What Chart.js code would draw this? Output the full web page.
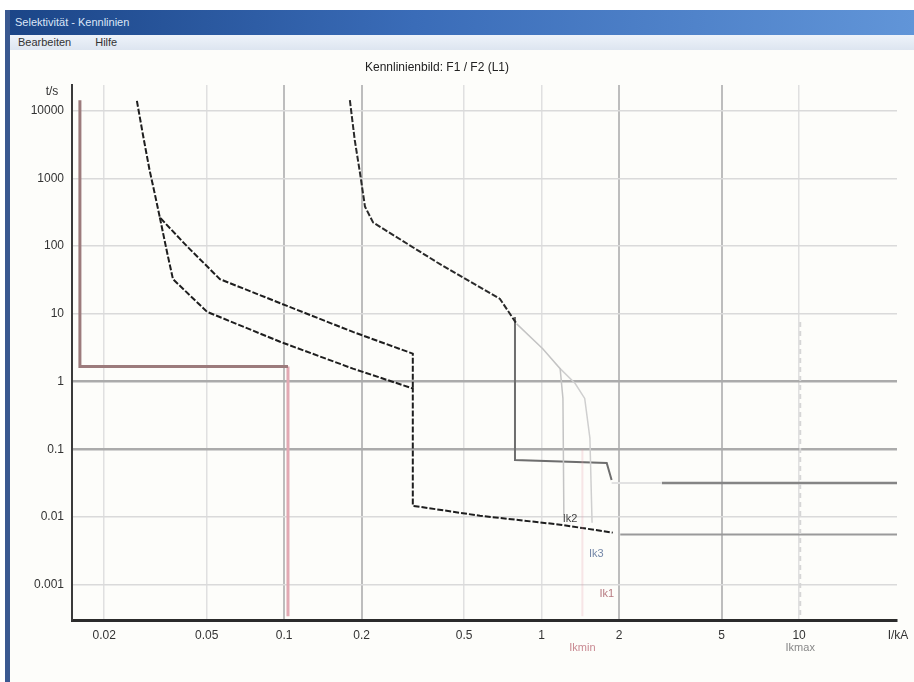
<!DOCTYPE html>
<html>
<head>
<meta charset="utf-8">
<script src="https://cdn.jsdelivr.net/npm/chart.js@4/dist/chart.umd.min.js"></script>
<style>
  body { margin: 0; width: 914px; height: 682px; overflow: hidden; background: #fff; position: relative;
         font-family: "Liberation Sans", Arial, sans-serif; }
  #frame { position: absolute; left: 5px; top: 10px; width: 909px; height: 672px; background: #fdfdfa; }
  #border { position: absolute; left: 0; top: 0; width: 5px; height: 672px; background: #3a5890; }
  #titlebar { position: absolute; left: 0; top: 0; right: 0; height: 25px; color: #dce6f7; font-size: 11px;
              line-height: 24px; padding-left: 10px;
              background: linear-gradient(to right, #1b4587, #3a6cb8 45%, #6195d8); }
  #menubar { position: absolute; left: 5px; top: 25px; right: 0; height: 15px; font-size: 11px; line-height: 15px;
             color: #333; background: linear-gradient(#eef3fa, #dde5f0); }
  #menubar span { margin-left: 8px; margin-right: 16px; }
  #chart { position: absolute; left: 0; top: 0; }
</style>
</head>
<body>
<div id="frame">
  <div id="titlebar">Selektivität - Kennlinien</div>
  <div id="menubar"><span>Bearbeiten</span><span>Hilfe</span></div>
  <div id="border"></div>
</div>
<canvas id="chart" width="914" height="682"></canvas>
<script>
// axis ticks
const xTicks = [0.02, 0.05, 0.1, 0.2, 0.5, 1, 2, 5, 10];
const xTickLabels = ['0.02', '0.05', '0.1', '0.2', '0.5', '1', '2', '5', '10'];
const yTicks = [0.001, 0.01, 0.1, 1, 10, 100, 1000, 10000];
const yTickLabels = ['0.001', '0.01', '0.1', '1', '10', '100', '1000', '10000'];

// fuse 1 (current in kA, time in s)
const fuse1UpperI = [0.0268, 0.0283, 0.030, 0.0315, 0.0329, 0.042, 0.0563, 0.1026, 0.185, 0.316, 0.316];
const fuse1UpperT = [14000, 4385, 1340, 576, 265, 99, 32.5, 13.1, 5.4, 2.58, 0.79];
const fuse1LowerI = [0.0329, 0.0351, 0.037, 0.0502, 0.0964, 0.185, 0.316, 0.316, 0.576, 1.18, 1.89];
const fuse1LowerT = [265, 81, 32.5, 10.7, 3.87, 1.55, 0.79, 0.0146, 0.0104, 0.00768, 0.00586];
const fuse1TailI = [2.02, 24];
const fuse1TailT = [0.00548, 0.00548];

// breaker
const breakerI = [0.180, 0.188, 0.197, 0.206, 0.2215, 0.392, 0.689, 0.80];
const breakerT = [14300, 3700, 1213, 384, 224, 57.8, 16.6, 7.1];
const breakerInstI = [0.788, 0.788, 1.79, 1.87];
const breakerInstT = [9, 0.0692, 0.0625, 0.0352];
const breakerGapI = [1.87, 2.93];
const breakerGapT = [0.0318, 0.0318];
const breakerTailI = [2.93, 24];
const breakerTailT = [0.0318, 0.0318];
const tol1I = [0.80, 1.01, 1.18, 1.21, 1.22];
const tol1T = [7.1, 3.05, 1.55, 0.563, 0.0108];
const tol2I = [1.18, 1.35, 1.47, 1.54, 1.57];
const tol2T = [1.55, 0.935, 0.563, 0.146, 0.0082];

// start current curve
const startI = [0.0161, 0.0161, 0.1035];
const startT = [14300, 1.66, 1.66];
const startDropI = [0.1035, 0.1035];
const startDropT = [1.66, 0.00034];

// short circuit markers
const ikMaxI = [10.1, 10.1];
const ikMaxT = [7.6, 0.00034];
const ikMinI = [1.44, 1.44];
const ikMinT = [0.1, 0.00034];

const titleText = 'Kennlinienbild: F1 / F2 (L1)';
const ikLabels = ['Ik2', 'Ik3', 'Ik1'];

function pts(xs, ys) {
  return xs.map((x, i) => ({ x: x, y: ys[i] }));
}

function line(xs, ys, color, width, dash) {
  return {
    data: pts(xs, ys),
    showLine: true,
    borderColor: color,
    borderWidth: width,
    borderDash: dash || [],
    pointRadius: 0,
    tension: 0,
    fill: false
  };
}

// text labels drawn on top
const labelPlugin = {
  id: 'labels',
  afterDraw(chart) {
    const ctx = chart.ctx;
    const xs = chart.scales.x, ys = chart.scales.y;
    ctx.save();
    ctx.font = '12px "Liberation Sans", Arial, sans-serif';
    ctx.textBaseline = 'middle';
    ctx.textAlign = 'center';
    ctx.fillStyle = '#222';
    ctx.fillText(titleText, 437, 68);
    ctx.fillStyle = '#333';
    ctx.fillText('t/s', 52, 92);
    ctx.fillText('I/kA', 898, 636);

    ctx.font = '11px "Liberation Sans", Arial, sans-serif';
    ctx.fillStyle = '#444';
    ctx.fillText(ikLabels[0], xs.getPixelForValue(1.29), ys.getPixelForValue(0.0094));
    ctx.fillStyle = '#7487a8';
    ctx.fillText(ikLabels[1], xs.getPixelForValue(1.63), ys.getPixelForValue(0.00279));
    ctx.fillStyle = '#b77a80';
    ctx.fillText(ikLabels[2], xs.getPixelForValue(1.79), ys.getPixelForValue(0.00072));

    ctx.fillStyle = '#c98a92';
    ctx.fillText('Ikmin', xs.getPixelForValue(1.44), 648);
    ctx.fillStyle = '#888';
    ctx.fillText('Ikmax', xs.getPixelForValue(10.1), 648);
    ctx.restore();
  }
};

const darkTicksX = [0.1, 0.2, 2, 5];
const darkTicksY = [1, 0.1];

new Chart(document.getElementById('chart'), {
  type: 'scatter',
  data: {
    datasets: [
      line(ikMinI, ikMinT, 'rgba(232,160,170,0.25)', 2),
      line(ikMaxI, ikMaxT, '#d6d6d6', 2, [5, 4]),
      line(startI, startT, '#9c7b7c', 3),
      line(startDropI, startDropT, '#e2a9b3', 3),
      line(tol1I, tol1T, '#c4c4c4', 1.5),
      line(tol2I, tol2T, '#cfcfcf', 1.5),
      line(fuse1UpperI, fuse1UpperT, '#1e1e1e', 2, [6, 2]),
      line(fuse1LowerI, fuse1LowerT, '#1e1e1e', 2, [6, 2]),
      line(fuse1TailI, fuse1TailT, '#9a9a9a', 2),
      line(breakerI, breakerT, '#2a2a2a', 2, [6, 2]),
      line(breakerInstI, breakerInstT, '#6e6e6e', 2),
      line(breakerGapI, breakerGapT, '#e2e2e2', 2),
      line(breakerTailI, breakerTailT, '#858585', 2.5)
    ]
  },
  options: {
    responsive: false,
    animation: false,
    devicePixelRatio: 1,
    layout: { padding: { top: 85, right: 17, bottom: 0, left: 0 } },
    plugins: { legend: { display: false }, tooltip: { enabled: false }, title: { display: false } },
    scales: {
      x: {
        type: 'logarithmic',
        min: 0.015,
        max: 24,
        afterBuildTicks: (s) => { s.ticks = xTicks.map(v => ({ value: v })); },
        afterFit: (s) => { s.height = 62; },
        ticks: {
          autoSkip: false,
          maxRotation: 0,
          padding: 8,
          color: '#333',
          font: { size: 12, family: '"Liberation Sans", Arial, sans-serif' },
          callback: (v, i) => xTickLabels[i]
        },
        grid: {
          drawTicks: false,
          color: (c) => darkTicksX.includes(c.tick && c.tick.value) ? '#bdbdbd' : '#e0e0e0',
          lineWidth: (c) => darkTicksX.includes(c.tick && c.tick.value) ? 2 : 1.5
        },
        border: { display: true, color: '#2b2b2b', width: 3 }
      },
      y: {
        type: 'logarithmic',
        min: 0.00034,
        max: 24000,
        afterBuildTicks: (s) => { s.ticks = yTicks.map(v => ({ value: v })); },
        afterFit: (s) => { s.width = 72; },
        ticks: {
          autoSkip: false,
          padding: 8,
          color: '#333',
          font: { size: 12, family: '"Liberation Sans", Arial, sans-serif' },
          callback: (v, i) => yTickLabels[i]
        },
        grid: {
          drawTicks: false,
          color: (c) => darkTicksY.includes(c.tick && c.tick.value) ? '#ababab' : '#dadada',
          lineWidth: (c) => darkTicksY.includes(c.tick && c.tick.value) ? 2.5 : 1.5
        },
        border: { display: true, color: '#3a3a3a', width: 2 }
      }
    }
  },
  plugins: [labelPlugin]
});
</script>
</body>
</html>
